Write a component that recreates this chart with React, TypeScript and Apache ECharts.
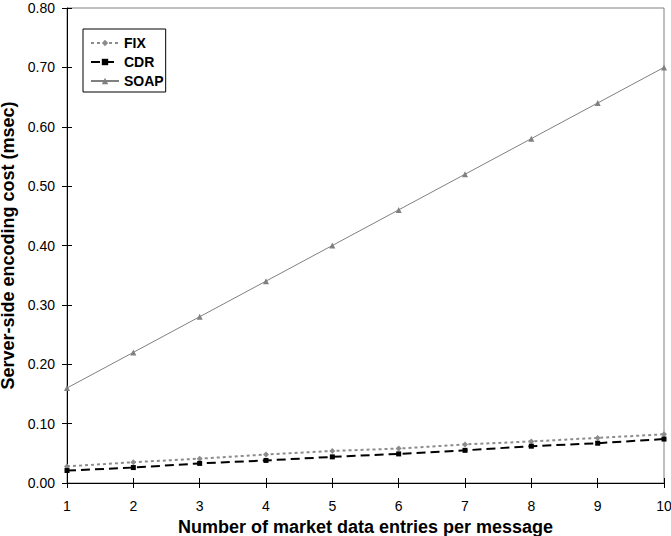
import React, { useEffect, useRef } from "react";
import * as echarts from "echarts";

const entries = [1, 2, 3, 4, 5, 6, 7, 8, 9, 10];
const fixCost = [0.028, 0.035, 0.041, 0.048, 0.054, 0.058, 0.065, 0.070, 0.076, 0.082];
const cdrCost = [0.021, 0.026, 0.033, 0.038, 0.044, 0.049, 0.055, 0.062, 0.067, 0.074];
const soapCost = [0.16, 0.22, 0.28, 0.34, 0.40, 0.46, 0.52, 0.58, 0.64, 0.70];

const FONT = "Liberation Sans, Arial, Helvetica, sans-serif";

export default function App() {
  const ref = useRef<HTMLDivElement>(null);
  useEffect(() => {
    if (!ref.current) return;
    const chart = echarts.init(ref.current, undefined, { renderer: "svg" });
    const pair = (vals: number[]) => entries.map((x, i) => [x, vals[i]]);
    chart.setOption({
      animation: false,
      backgroundColor: "#ffffff",
      textStyle: { fontFamily: FONT },
      grid: {
        left: 67,
        right: 7,
        top: 8,
        bottom: 53,
        containLabel: false,
        outerBoundsMode: "none",
        show: true,
        borderColor: "#808080",
        borderWidth: 1,
      },
      legend: {
        left: 83,
        top: 29,
        orient: "vertical",
        backgroundColor: "#ffffff",
        borderColor: "#000000",
        borderWidth: 1,
        padding: [7, 2, 4, 7],
        itemWidth: 28,
        itemHeight: 8,
        itemGap: 5,
        textStyle: { fontFamily: FONT, fontWeight: "bold", fontSize: 14, color: "#000" },
        data: ["FIX", "CDR", "SOAP"],
      },
      xAxis: [
        {
          type: "value",
          min: 1,
          max: 10,
          interval: 1,
          name: "Number of market data entries per message",
          nameLocation: "middle",
          nameGap: 32,
          nameTextStyle: { fontFamily: FONT, fontWeight: "bold", fontSize: 18, color: "#000" },
          axisLine: { show: true, onZero: false, lineStyle: { color: "#000", width: 1 } },
          axisTick: { show: true, length: 5, lineStyle: { color: "#000" } },
          axisLabel: { margin: 16, fontFamily: FONT, fontSize: 14, color: "#000" },
          splitLine: { show: false },
        },
        {
          type: "value",
          position: "bottom",
          min: 1,
          max: 10,
          interval: 1,
          axisLine: { show: false },
          axisTick: { show: true, inside: true, length: 5, lineStyle: { color: "#000" } },
          axisLabel: { show: false },
          splitLine: { show: false },
        },
      ],
      yAxis: [
        {
          type: "value",
          min: 0,
          max: 0.8,
          interval: 0.1,
          name: "Server-side encoding cost (msec)",
          nameLocation: "middle",
          nameGap: 42,
          nameTextStyle: { fontFamily: FONT, fontWeight: "bold", fontSize: 18, color: "#000" },
          axisLine: { show: true, onZero: false, lineStyle: { color: "#000", width: 1 } },
          axisTick: { show: true, length: 5, lineStyle: { color: "#000" } },
          axisLabel: {
            margin: 12,
            fontFamily: FONT,
            fontSize: 14,
            color: "#000",
            formatter: (v: number) => v.toFixed(2),
          },
          splitLine: { show: false },
        },
        {
          type: "value",
          position: "left",
          min: 0,
          max: 0.8,
          interval: 0.1,
          axisLine: { show: false },
          axisTick: { show: true, inside: true, length: 5, lineStyle: { color: "#000" } },
          axisLabel: { show: false },
          splitLine: { show: false },
        },
      ],
      series: [
        {
          name: "FIX",
          type: "line",
          data: pair(fixCost),
          symbol: "diamond",
          symbolSize: 6,
          itemStyle: { color: "#8c8c8c" },
          lineStyle: { color: "#8c8c8c", width: 2, type: [3, 3] },
          z: 3,
        },
        {
          name: "CDR",
          type: "line",
          data: pair(cdrCost),
          symbol: "rect",
          symbolSize: 5,
          itemStyle: { color: "#000" },
          lineStyle: { color: "#000", width: 2, type: [9, 5] },
          z: 4,
        },
        {
          name: "SOAP",
          type: "line",
          data: pair(soapCost),
          symbol: "triangle",
          symbolSize: 6,
          itemStyle: { color: "#808080" },
          lineStyle: { color: "#808080", width: 1 },
          z: 2,
        },
      ],
    });
    return () => chart.dispose();
  }, []);
  return (
    <div
      ref={ref}
      style={{ position: "fixed", left: 0, top: 0, width: 671, height: 536, background: "#fff" }}
    />
  );
}
